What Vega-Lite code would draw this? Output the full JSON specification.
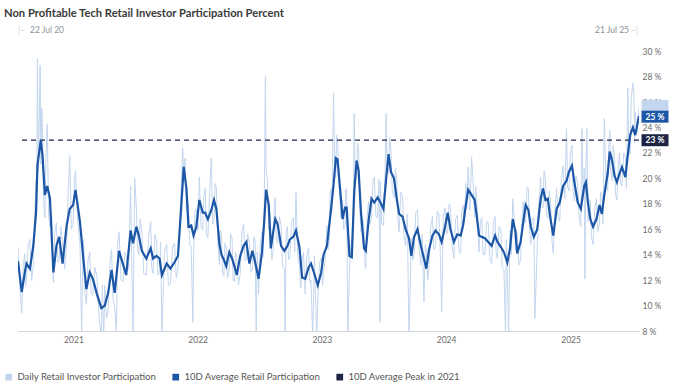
{
  "$schema": "https://vega.github.io/schema/vega-lite/v6.json",
  "padding": {"left": 4, "top": 7, "right": 4, "bottom": 0},
  "width": 621,
  "height": 290,
  "background": "white",
  "title": {"text": "Non Profitable Tech Retail Investor Participation Percent", "anchor": "start", "frame": "bounds", "font": "Lato", "fontSize": 11.2, "fontWeight": "bold", "color": "#3a3a3a", "offset": 7},
  "config": {"view": {"stroke": null}, "font": "Lato", "axisY": {"tickCount": 12, "labelOverlap": false}},
  "datasets": {
    "main": [
      {"d":"2020-07-22","a":13.5,"v":14.6},{"d":"2020-07-27","v":11.6},{"d":"2020-08-02","a":11.05,"v":9.4},{"d":"2020-08-06","v":13.0},{"d":"2020-08-11","a":12.6,"v":14.1},{"d":"2020-08-13","v":11.5},{"d":"2020-08-16","a":13.3,"v":12.0},{"d":"2020-08-21","v":14.8},{"d":"2020-08-26","a":12.9,"v":15.2},{"d":"2020-08-31","v":12.0},{"d":"2020-09-05","a":14.7,"v":13.1},{"d":"2020-09-09","v":17.2},{"d":"2020-09-13","a":17.3,"v":19.8},{"d":"2020-09-15","v":18.0},{"d":"2020-09-17","a":21.0,"v":29.4},{"d":"2020-09-20","v":20.5},{"d":"2020-09-25","v":28.9},{"d":"2020-09-27","a":23.0,"v":21.1},{"d":"2020-09-30","v":25.5},{"d":"2020-10-02","a":21.8,"v":24.0},{"d":"2020-10-05","v":18.5},{"d":"2020-10-09","a":18.7,"v":16.9},{"d":"2020-10-12","v":21.5},{"d":"2020-10-16","a":19.4,"v":24.3},{"d":"2020-10-20","v":17.0},{"d":"2020-10-24","a":18.4,"v":16.2},{"d":"2020-10-29","v":17.0},{"d":"2020-11-03","a":12.6,"v":11.8},{"d":"2020-11-07","v":15.8},{"d":"2020-11-12","a":14.7,"v":16.5},{"d":"2020-11-16","v":13.4},{"d":"2020-11-20","a":15.4,"v":13.6},{"d":"2020-11-25","v":16.2},{"d":"2020-11-30","a":13.3,"v":14.9},{"d":"2020-12-06","v":12.9},{"d":"2020-12-12","a":16.3,"v":14.8},{"d":"2020-12-16","v":18.6},{"d":"2020-12-21","a":17.6,"v":21.8},{"d":"2020-12-26","v":16.0},{"d":"2020-12-31","a":17.9,"v":16.4},
      {"d":"2021-01-04","v":20.0},{"d":"2021-01-07","a":19.1,"v":20.6},{"d":"2021-01-13","v":16.8},{"d":"2021-01-20","a":16.6,"v":14.9},{"d":"2021-01-25","v":8.0},{"d":"2021-01-28","v":12.8},{"d":"2021-01-31","a":13.4,"v":15.2},{"d":"2021-02-04","v":10.8},{"d":"2021-02-08","a":11.3,"v":10.1},{"d":"2021-02-13","v":13.6},{"d":"2021-02-18","a":12.6,"v":14.2},{"d":"2021-02-22","v":11.0},{"d":"2021-02-27","a":12.1,"v":10.8},{"d":"2021-03-05","v":13.0},{"d":"2021-03-11","a":10.9,"v":12.3},{"d":"2021-03-17","v":9.2},{"d":"2021-03-24","a":9.8,"v":7.5},{"d":"2021-03-27","v":11.6},{"d":"2021-03-31","v":7.5},{"d":"2021-04-03","a":10.0,"v":11.6},{"d":"2021-04-08","v":9.0},{"d":"2021-04-13","a":11.0,"v":9.6},{"d":"2021-04-18","v":13.3},{"d":"2021-04-23","a":12.8,"v":14.4},{"d":"2021-04-27","v":10.6},{"d":"2021-05-02","a":11.0,"v":9.9},{"d":"2021-05-07","v":8.0},{"d":"2021-05-11","v":14.9},{"d":"2021-05-15","a":14.3,"v":15.8},{"d":"2021-05-21","v":12.0},{"d":"2021-05-27","a":13.2,"v":11.9},{"d":"2021-06-01","v":14.2},{"d":"2021-06-05","a":12.4,"v":13.9},{"d":"2021-06-12","v":12.8},{"d":"2021-06-18","a":15.9,"v":19.4},{"d":"2021-06-21","v":14.0},{"d":"2021-06-25","a":14.9,"v":7.5},{"d":"2021-06-30","v":20.0},{"d":"2021-07-05","a":16.2,"v":17.6},{"d":"2021-07-08","v":14.6},{"d":"2021-07-12","a":15.5,"v":14.0},{"d":"2021-07-16","v":16.8},{"d":"2021-07-21","a":14.3,"v":15.7},{"d":"2021-07-27","v":12.5},{"d":"2021-08-03","a":13.7,"v":12.4},{"d":"2021-08-10","v":15.4},{"d":"2021-08-16","a":14.5,"v":16.6},{"d":"2021-08-19","v":13.0},{"d":"2021-08-23","a":13.7,"v":12.5},{"d":"2021-08-28","v":15.6},{"d":"2021-09-02","a":13.9,"v":15.1},{"d":"2021-09-06","v":12.4},{"d":"2021-09-11","a":13.7,"v":12.6},{"d":"2021-09-14","v":15.0},{"d":"2021-09-18","a":12.4,"v":7.5},{"d":"2021-09-25","v":14.2},{"d":"2021-10-02","a":13.3,"v":14.8},{"d":"2021-10-07","v":11.6},{"d":"2021-10-13","a":12.9,"v":11.7},{"d":"2021-10-19","v":14.6},{"d":"2021-10-25","a":13.4,"v":14.9},{"d":"2021-10-30","v":12.2},{"d":"2021-11-04","a":13.9,"v":12.8},{"d":"2021-11-09","v":16.4},{"d":"2021-11-14","a":17.9,"v":19.6},{"d":"2021-11-18","v":22.4},{"d":"2021-11-21","a":20.9,"v":20.0},{"d":"2021-11-25","v":21.6},{"d":"2021-11-29","a":19.2,"v":17.5},{"d":"2021-12-02","v":18.4},{"d":"2021-12-05","a":16.2,"v":17.8},{"d":"2021-12-09","v":14.8},{"d":"2021-12-13","a":16.3,"v":14.6},{"d":"2021-12-18","v":8.7},{"d":"2021-12-20","a":15.5,"v":13.9},{"d":"2021-12-24","v":17.4},{"d":"2021-12-28","a":16.2,"v":17.6},
      {"d":"2022-01-02","v":15.9},{"d":"2022-01-06","a":18.3,"v":20.1},{"d":"2022-01-11","v":16.2},{"d":"2022-01-16","a":17.3,"v":15.9},{"d":"2022-01-19","v":18.6},{"d":"2022-01-23","a":17.3,"v":19.2},{"d":"2022-01-27","v":15.6},{"d":"2022-01-31","a":16.8,"v":15.3},{"d":"2022-02-05","v":18.9},{"d":"2022-02-10","a":17.5,"v":21.6},{"d":"2022-02-14","v":16.4},{"d":"2022-02-18","a":18.3,"v":16.7},{"d":"2022-02-21","v":19.6},{"d":"2022-02-25","a":17.6,"v":19.3},{"d":"2022-03-01","v":15.0},{"d":"2022-03-06","a":14.8,"v":13.2},{"d":"2022-03-09","v":15.9},{"d":"2022-03-12","a":14.0,"v":15.6},{"d":"2022-03-15","v":12.6},{"d":"2022-03-19","a":13.6,"v":12.3},{"d":"2022-03-22","v":14.9},{"d":"2022-03-26","a":13.1,"v":14.6},{"d":"2022-03-30","v":12.2},{"d":"2022-04-04","a":14.2,"v":12.8},{"d":"2022-04-08","v":15.6},{"d":"2022-04-12","a":13.7,"v":15.3},{"d":"2022-04-15","v":12.0},{"d":"2022-04-19","a":13.1,"v":11.9},{"d":"2022-04-22","v":14.2},{"d":"2022-04-26","a":12.4,"v":13.8},{"d":"2022-05-01","v":11.6},{"d":"2022-05-06","a":13.9,"v":12.5},{"d":"2022-05-11","v":15.8},{"d":"2022-05-16","a":14.7,"v":16.4},{"d":"2022-05-20","v":13.5},{"d":"2022-05-24","a":15.0,"v":13.6},{"d":"2022-05-28","v":15.6},{"d":"2022-06-02","a":13.3,"v":14.9},{"d":"2022-06-06","v":12.6},{"d":"2022-06-11","a":14.3,"v":12.8},{"d":"2022-06-15","v":15.4},{"d":"2022-06-19","a":13.4,"v":15.0},{"d":"2022-06-22","v":7.5},{"d":"2022-06-25","v":14.2},{"d":"2022-06-29","a":12.1,"v":10.9},{"d":"2022-07-04","v":14.8},{"d":"2022-07-09","a":14.2,"v":15.8},{"d":"2022-07-12","v":13.8},{"d":"2022-07-16","a":16.8,"v":18.6},{"d":"2022-07-19","v":28.0},{"d":"2022-07-21","a":19.1,"v":20.8},{"d":"2022-07-25","v":19.8},{"d":"2022-07-29","a":17.9,"v":16.0},{"d":"2022-08-01","v":17.2},{"d":"2022-08-04","a":14.5,"v":15.9},{"d":"2022-08-07","v":13.6},{"d":"2022-08-11","a":15.8,"v":14.4},{"d":"2022-08-14","v":17.9},{"d":"2022-08-17","a":16.8,"v":18.5},{"d":"2022-08-20","v":15.2},{"d":"2022-08-24","a":16.4,"v":14.9},{"d":"2022-08-29","v":17.0},{"d":"2022-09-03","a":14.7,"v":16.3},{"d":"2022-09-08","v":13.0},{"d":"2022-09-13","a":14.3,"v":12.9},{"d":"2022-09-15","v":7.5},{"d":"2022-09-18","v":15.8},{"d":"2022-09-22","a":14.7,"v":16.2},{"d":"2022-09-25","v":13.6},{"d":"2022-09-29","a":15.2,"v":13.8},{"d":"2022-10-04","v":16.6},{"d":"2022-10-09","a":15.4,"v":16.9},{"d":"2022-10-13","v":14.2},{"d":"2022-10-17","a":15.9,"v":18.9},{"d":"2022-10-22","v":14.0},{"d":"2022-10-27","a":14.6,"v":13.2},{"d":"2022-10-31","v":11.4},{"d":"2022-11-04","a":12.2,"v":13.6},{"d":"2022-11-08","v":14.2},{"d":"2022-11-13","a":12.1,"v":10.9},{"d":"2022-11-18","v":14.0},{"d":"2022-11-23","a":13.0,"v":14.5},{"d":"2022-11-27","v":11.8},{"d":"2022-11-30","a":13.3,"v":12.0},{"d":"2022-12-05","v":7.5},{"d":"2022-12-10","a":12.5,"v":13.9},{"d":"2022-12-17","v":7.5},{"d":"2022-12-20","a":11.6,"v":10.4},{"d":"2022-12-25","v":13.3},{"d":"2022-12-30","a":12.6,"v":13.8},
      {"d":"2023-01-03","v":11.6},{"d":"2023-01-06","a":14.0,"v":12.7},{"d":"2023-01-11","v":13.6},{"d":"2023-01-16","a":14.7,"v":16.3},{"d":"2023-01-19","v":14.4},{"d":"2023-01-23","a":16.4,"v":15.1},{"d":"2023-01-25","v":18.6},{"d":"2023-01-28","a":17.6,"v":19.2},{"d":"2023-01-31","v":17.5},{"d":"2023-02-04","a":19.4,"v":26.7},{"d":"2023-02-08","v":20.3},{"d":"2023-02-11","a":21.6,"v":20.1},{"d":"2023-02-13","v":23.4},{"d":"2023-02-16","a":21.5,"v":23.0},{"d":"2023-02-21","v":19.6},{"d":"2023-02-26","a":18.4,"v":16.9},{"d":"2023-02-28","v":17.9},{"d":"2023-03-03","a":16.8,"v":18.3},{"d":"2023-03-06","v":16.0},{"d":"2023-03-10","a":17.7,"v":16.2},{"d":"2023-03-12","v":19.2},{"d":"2023-03-15","a":17.7,"v":19.0},{"d":"2023-03-18","v":7.5},{"d":"2023-03-23","a":13.9,"v":12.6},{"d":"2023-03-27","v":14.8},{"d":"2023-03-30","a":13.8,"v":15.3},{"d":"2023-04-03","v":17.0},{"d":"2023-04-06","a":18.9,"v":25.1},{"d":"2023-04-09","v":20.2},{"d":"2023-04-13","a":21.4,"v":20.0},{"d":"2023-04-16","v":22.8},{"d":"2023-04-19","a":20.6,"v":22.3},{"d":"2023-04-22","v":18.2},{"d":"2023-04-26","a":17.3,"v":15.8},{"d":"2023-05-01","v":16.9},{"d":"2023-05-05","a":14.5,"v":15.9},{"d":"2023-05-08","v":13.2},{"d":"2023-05-10","a":14.3,"v":12.9},{"d":"2023-05-14","v":16.8},{"d":"2023-05-18","a":16.6,"v":18.2},{"d":"2023-05-22","v":16.4},{"d":"2023-05-27","a":18.4,"v":16.8},{"d":"2023-05-31","v":19.8},{"d":"2023-06-04","a":18.1,"v":20.1},{"d":"2023-06-09","v":17.0},{"d":"2023-06-14","a":18.5,"v":16.9},{"d":"2023-06-18","v":19.9},{"d":"2023-06-21","v":8.7},{"d":"2023-06-22","a":18.1,"v":19.7},{"d":"2023-06-26","v":16.4},{"d":"2023-07-01","a":17.6,"v":16.3},{"d":"2023-07-05","v":19.6},{"d":"2023-07-09","a":20.0,"v":25.1},{"d":"2023-07-12","v":20.6},{"d":"2023-07-16","a":21.9,"v":20.4},{"d":"2023-07-19","v":23.2},{"d":"2023-07-23","a":20.5,"v":22.2},{"d":"2023-07-27","v":19.0},{"d":"2023-08-01","a":20.0,"v":18.5},{"d":"2023-08-05","v":20.8},{"d":"2023-08-09","a":18.4,"v":19.9},{"d":"2023-08-12","v":16.9},{"d":"2023-08-16","a":17.2,"v":15.8},{"d":"2023-08-21","v":18.9},{"d":"2023-08-26","a":17.0,"v":18.6},{"d":"2023-08-30","v":15.6},{"d":"2023-09-04","a":16.0,"v":14.7},{"d":"2023-09-09","v":17.2},{"d":"2023-09-14","a":15.3,"v":7.5},{"d":"2023-09-21","a":13.9,"v":15.3},{"d":"2023-09-25","v":13.6},{"d":"2023-09-29","a":15.4,"v":14.0},{"d":"2023-10-04","v":17.3},{"d":"2023-10-09","a":16.0,"v":17.5},{"d":"2023-10-14","v":14.4},{"d":"2023-10-19","a":14.7,"v":13.2},{"d":"2023-10-23","v":15.6},{"d":"2023-10-28","a":13.7,"v":10.3},{"d":"2023-11-01","v":14.8},{"d":"2023-11-04","a":12.9,"v":14.3},{"d":"2023-11-08","v":12.0},{"d":"2023-11-12","a":14.4,"v":13.0},{"d":"2023-11-17","v":16.2},{"d":"2023-11-22","a":15.5,"v":17.0},{"d":"2023-11-26","v":14.4},{"d":"2023-12-01","a":15.9,"v":14.6},{"d":"2023-12-06","v":17.4},{"d":"2023-12-11","a":15.6,"v":17.2},{"d":"2023-12-15","v":14.2},{"d":"2023-12-19","a":15.0,"v":9.5},{"d":"2023-12-24","v":17.0},{"d":"2023-12-29","a":16.2,"v":17.7},
      {"d":"2024-01-02","v":15.6},{"d":"2024-01-06","a":17.3,"v":15.9},{"d":"2024-01-10","v":18.0},{"d":"2024-01-14","a":16.0,"v":17.6},{"d":"2024-01-19","v":14.6},{"d":"2024-01-24","a":15.0,"v":13.7},{"d":"2024-01-29","v":16.8},{"d":"2024-02-03","a":15.6,"v":17.1},{"d":"2024-02-08","v":14.2},{"d":"2024-02-13","a":15.5,"v":14.1},{"d":"2024-02-16","v":17.4},{"d":"2024-02-20","a":16.3,"v":17.9},{"d":"2024-02-24","v":16.5},{"d":"2024-02-28","a":17.9,"v":19.6},{"d":"2024-03-02","v":17.6},{"d":"2024-03-06","a":19.1,"v":20.9},{"d":"2024-03-11","v":17.5},{"d":"2024-03-16","a":18.7,"v":21.7},{"d":"2024-03-20","v":19.9},{"d":"2024-03-25","a":18.3,"v":16.9},{"d":"2024-03-28","v":19.4},{"d":"2024-03-31","a":17.1,"v":18.5},{"d":"2024-04-03","v":16.2},{"d":"2024-04-07","a":15.5,"v":14.2},{"d":"2024-04-11","v":16.6},{"d":"2024-04-15","a":15.4,"v":16.9},{"d":"2024-04-19","v":14.0},{"d":"2024-04-24","a":15.3,"v":14.0},{"d":"2024-04-29","v":16.6},{"d":"2024-05-04","a":15.0,"v":16.5},{"d":"2024-05-09","v":13.6},{"d":"2024-05-14","a":14.7,"v":13.3},{"d":"2024-05-19","v":16.4},{"d":"2024-05-24","a":15.5,"v":17.0},{"d":"2024-05-27","v":14.2},{"d":"2024-05-31","a":15.0,"v":13.7},{"d":"2024-06-05","v":16.2},{"d":"2024-06-10","a":14.6,"v":16.0},{"d":"2024-06-14","v":13.0},{"d":"2024-06-19","a":14.2,"v":12.8},{"d":"2024-06-24","v":7.5},{"d":"2024-06-26","v":15.2},{"d":"2024-06-29","a":13.4,"v":12.4},{"d":"2024-07-03","v":7.8},{"d":"2024-07-07","a":14.5,"v":15.9},{"d":"2024-07-11","v":14.0},{"d":"2024-07-15","a":16.8,"v":18.4},{"d":"2024-07-19","v":16.9},{"d":"2024-07-23","a":15.8,"v":14.4},{"d":"2024-07-25","v":16.0},{"d":"2024-07-28","a":14.1,"v":15.6},{"d":"2024-08-02","v":13.2},{"d":"2024-08-07","a":15.0,"v":13.6},{"d":"2024-08-11","v":16.4},{"d":"2024-08-15","a":16.6,"v":18.2},{"d":"2024-08-18","v":16.6},{"d":"2024-08-22","a":17.9,"v":16.5},{"d":"2024-08-26","v":19.3},{"d":"2024-08-30","a":17.5,"v":19.2},{"d":"2024-09-02","v":16.0},{"d":"2024-09-06","a":16.2,"v":14.8},{"d":"2024-09-10","v":16.8},{"d":"2024-09-15","a":15.4,"v":16.9},{"d":"2024-09-18","v":9.0},{"d":"2024-09-25","a":16.0,"v":14.5},{"d":"2024-09-30","v":18.2},{"d":"2024-10-05","a":18.4,"v":20.1},{"d":"2024-10-08","v":18.0},{"d":"2024-10-12","a":19.2,"v":17.7},{"d":"2024-10-15","v":20.6},{"d":"2024-10-19","a":18.3,"v":19.9},{"d":"2024-10-22","v":17.2},{"d":"2024-10-26","a":18.4,"v":16.9},{"d":"2024-10-30","v":19.0},{"d":"2024-11-03","a":16.8,"v":18.3},{"d":"2024-11-07","v":15.2},{"d":"2024-11-11","a":15.5,"v":14.1},{"d":"2024-11-16","v":17.4},{"d":"2024-11-21","a":17.6,"v":19.2},{"d":"2024-11-25","v":17.0},{"d":"2024-11-30","a":18.1,"v":16.6},{"d":"2024-12-05","v":20.0},{"d":"2024-12-10","a":19.4,"v":21.0},{"d":"2024-12-15","v":18.4},{"d":"2024-12-20","a":19.8,"v":23.9},{"d":"2024-12-23","v":19.4},{"d":"2024-12-27","a":20.5,"v":19.0},{"d":"2024-12-31","v":21.8},
      {"d":"2025-01-05","a":21.0,"v":22.6},{"d":"2025-01-08","v":19.2},{"d":"2025-01-12","a":19.7,"v":18.2},{"d":"2025-01-17","v":20.2},{"d":"2025-01-22","a":18.1,"v":19.6},{"d":"2025-01-26","v":16.9},{"d":"2025-01-31","a":17.6,"v":16.2},{"d":"2025-02-03","v":23.9},{"d":"2025-02-07","v":18.6},{"d":"2025-02-10","a":19.4,"v":20.8},{"d":"2025-02-12","v":12.1},{"d":"2025-02-15","a":19.7,"v":21.2},{"d":"2025-02-18","v":23.9},{"d":"2025-02-21","a":18.1,"v":16.6},{"d":"2025-02-24","v":18.2},{"d":"2025-02-28","a":16.8,"v":18.3},{"d":"2025-03-03","v":15.4},{"d":"2025-03-08","a":16.2,"v":14.8},{"d":"2025-03-13","v":17.6},{"d":"2025-03-18","a":16.8,"v":18.4},{"d":"2025-03-22","v":15.8},{"d":"2025-03-27","a":17.9,"v":16.5},{"d":"2025-03-30","v":18.9},{"d":"2025-04-03","a":17.2,"v":18.8},{"d":"2025-04-06","v":16.4},{"d":"2025-04-10","a":18.7,"v":24.7},{"d":"2025-04-15","v":19.6},{"d":"2025-04-20","a":20.4,"v":19.0},{"d":"2025-04-23","v":22.4},{"d":"2025-04-26","a":22.1,"v":23.8},{"d":"2025-04-29","v":20.6},{"d":"2025-05-03","a":21.4,"v":19.8},{"d":"2025-05-06","v":22.6},{"d":"2025-05-10","a":20.2,"v":21.8},{"d":"2025-05-13","v":18.8},{"d":"2025-05-17","a":19.7,"v":18.3},{"d":"2025-05-21","v":21.0},{"d":"2025-05-25","a":20.4,"v":22.0},{"d":"2025-05-28","v":19.6},{"d":"2025-06-01","a":20.9,"v":19.4},{"d":"2025-06-06","v":22.0},{"d":"2025-06-11","a":20.1,"v":21.7},{"d":"2025-06-14","v":19.2},{"d":"2025-06-18","a":21.8,"v":27.1},{"d":"2025-06-21","v":22.6},{"d":"2025-06-25","a":23.4,"v":21.9},{"d":"2025-06-28","v":26.2},{"d":"2025-07-03","a":24.0,"v":27.5},{"d":"2025-07-06","v":26.7},{"d":"2025-07-08","v":22.8},{"d":"2025-07-10","a":23.4,"v":25.2},{"d":"2025-07-15","v":23.6},{"d":"2025-07-21","a":24.9,"v":25.6}
    ],
    "ends": [
      {"d":"2025-07-21","v":25.7,"s":"Daily Retail Investor Participation","lbl":""},
      {"d":"2025-07-21","v":24.85,"s":"10D Average Retail Participation","lbl":"25 %"},
      {"d":"2025-07-21","v":23.0,"s":"10D Average Peak in 2021","lbl":"23 %"}
    ],
    "marks": [
      {"d":"2020-07-22","t":"22 Jul 20"},
      {"d":"2025-07-21","t":"21 Jul 25"}
    ]
  },
  "layer": [
    {
      "data": {"name": "main"},
      "mark": {"type": "line", "strokeWidth": 1, "clip": true},
      "encoding": {
        "x": {"field": "d", "type": "temporal", "title": null,
              "scale": {"domain": ["2020-07-22", "2025-07-21"], "nice": false},
              "axis": {"format": "%Y", "tickCount": {"interval": "year", "step": 1}, "ticks": false, "grid": false, "domainColor": "#d3d7dc", "labelColor": "#6b6b6b", "labelFontSize": 8.5, "labelPadding": 4, "labelFlush": false}},
        "y": {"field": "v", "type": "quantitative", "title": null,
              "scale": {"domain": [8, 30.8], "nice": false, "zero": false},
              "axis": {"orient": "right", "values": [8,10,12,14,16,18,20,22,24,26,28,30], "tickCount": 12, "labelExpr": "datum.value + ' %'", "labelOverlap": false, "domain": false, "ticks": false, "grid": false, "labelColor": "#6b6b6b", "labelFontSize": 8.5, "labelPadding": 3}},
        "color": {"datum": "Daily Retail Investor Participation", "type": "nominal",
                  "scale": {"domain": ["Daily Retail Investor Participation", "10D Average Retail Participation", "10D Average Peak in 2021"], "range": ["#c3d6ee", "#1c56a6", "#1d2444"]},
                  "legend": {"title": null, "orient": "none", "legendX": -14, "legendY": 331, "direction": "horizontal", "symbolType": "square", "symbolSize": 45, "labelFontSize": 9.5, "labelColor": "#555555", "columnPadding": 14, "labelOffset": 4,
                             "encode": {"symbols": {"update": {"fill": {"scale": "color", "field": "value"}, "strokeWidth": {"value": 0}}}}}}
      }
    },
    {
      "data": {"values": [{"p": 23}]},
      "mark": {"type": "rule", "strokeDash": [5, 4], "strokeWidth": 1.3},
      "encoding": {
        "y": {"field": "p", "type": "quantitative", "axis": {"orient": "right", "values": [8,10,12,14,16,18,20,22,24,26,28,30], "labelOverlap": false}},
        "color": {"datum": "10D Average Peak in 2021", "type": "nominal"}
      }
    },
    {
      "data": {"name": "main"},
      "transform": [{"filter": "isValid(datum.a)"}],
      "mark": {"type": "line", "strokeWidth": 2.2, "clip": true},
      "encoding": {
        "x": {"field": "d", "type": "temporal"},
        "y": {"field": "a", "type": "quantitative", "axis": {"orient": "right", "values": [8,10,12,14,16,18,20,22,24,26,28,30], "labelOverlap": false}},
        "color": {"datum": "10D Average Retail Participation", "type": "nominal"}
      }
    },
    {
      "data": {"name": "ends"},
      "mark": {"type": "point", "shape": "M-1.35,-0.6H1.35V0.6H-1.35Z", "size": 400, "filled": true, "opacity": 1, "xOffset": 16},
      "encoding": {
        "x": {"field": "d", "type": "temporal"},
        "y": {"field": "v", "type": "quantitative"},
        "color": {"field": "s", "type": "nominal", "legend": null}
      }
    },
    {
      "data": {"name": "ends"},
      "mark": {"type": "text", "dx": 16, "align": "center", "baseline": "middle", "fontSize": 8.5, "fontWeight": "bold", "color": "white"},
      "encoding": {
        "x": {"field": "d", "type": "temporal"},
        "y": {"field": "v", "type": "quantitative"},
        "text": {"field": "lbl"}
      }
    },
    {
      "data": {"name": "marks"},
      "transform": [{"filter": "datum.t == '22 Jul 20'"}],
      "layer": [
        {"mark": {"type": "text", "align": "left", "baseline": "middle", "dx": 0, "dy": -11, "fontSize": 8.5, "color": "#c9d2de", "text": "|–"},
         "encoding": {"x": {"field": "d", "type": "temporal"}, "y": {"datum": 30.8}}},
        {"mark": {"type": "text", "align": "left", "baseline": "middle", "dx": 12, "dy": -11, "fontSize": 8.5, "color": "#8b919b"},
         "encoding": {"x": {"field": "d", "type": "temporal"}, "y": {"datum": 30.8}, "text": {"field": "t"}}}
      ]
    },
    {
      "data": {"name": "marks"},
      "transform": [{"filter": "datum.t == '21 Jul 25'"}],
      "layer": [
        {"mark": {"type": "text", "align": "right", "baseline": "middle", "dx": -1, "dy": -11, "fontSize": 8.5, "color": "#c9d2de", "text": "–|"},
         "encoding": {"x": {"field": "d", "type": "temporal"}, "y": {"datum": 30.8}}},
        {"mark": {"type": "text", "align": "right", "baseline": "middle", "dx": -10, "dy": -11, "fontSize": 8.5, "color": "#8b919b"},
         "encoding": {"x": {"field": "d", "type": "temporal"}, "y": {"datum": 30.8}, "text": {"field": "t"}}}
      ]
    }
  ]
}
